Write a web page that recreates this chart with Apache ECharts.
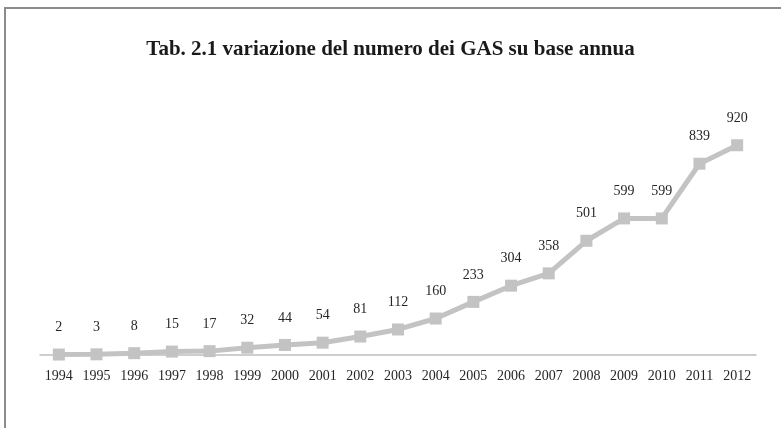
<!DOCTYPE html>
<html>
<head>
<meta charset="utf-8">
<script src="https://cdn.jsdelivr.net/npm/echarts@6/dist/echarts.min.js"></script>
<style>
  html, body { margin: 0; padding: 0; background: #fff; }
  #chart { width: 781px; height: 428px; position: absolute; left: 0; top: 0; }
  .frame {
    position: absolute; left: 4px; top: 7px; right: 0; bottom: 0;
    border-top: 2px solid #8c8c8c; border-left: 2px solid #8c8c8c;
    pointer-events: none;
  }
</style>
</head>
<body>
<div id="chart"></div>
<div class="frame"></div>
<script>
// anni e numero di GAS
const years = ['1994', '1995', '1996', '1997', '1998', '1999', '2000', '2001', '2002', '2003',
  '2004', '2005', '2006', '2007', '2008', '2009', '2010', '2011', '2012'];
const gasCount = [2, 3, 8, 15, 17, 32, 44, 54, 81, 112, 160, 233, 304, 358, 501, 599, 599, 839, 920];

const titleText = 'Tab. 2.1 variazione del numero dei GAS su base annua';
const serif = '"Liberation Serif", "DejaVu Serif", serif';

const chart = echarts.init(document.getElementById('chart'));

chart.setOption({
  animation: false,
  title: {
    text: titleText,
    left: 'center',
    top: 34,
    textStyle: {
      fontFamily: serif,
      fontWeight: 'bold',
      fontSize: 21,
      color: '#1a1a1a'
    }
  },
  grid: {
    left: 40,
    right: 25,
    top: 127,
    bottom: 73
  },
  xAxis: {
    type: 'category',
    data: years,
    boundaryGap: true,
    axisLine: { lineStyle: { color: '#bfbfbf', width: 1.5 } },
    axisTick: { show: false },
    axisLabel: {
      interval: 0,
      margin: 14,
      fontFamily: serif,
      fontSize: 14,
      color: '#262626'
    }
  },
  yAxis: {
    type: 'value',
    min: 0,
    max: 1000,
    show: false,
    splitLine: { show: false }
  },
  series: [
    {
      type: 'line',
      data: gasCount,
      symbol: 'rect',
      symbolSize: 12,
      lineStyle: { color: '#c3c3c3', width: 5 },
      itemStyle: { color: '#c3c3c3' },
      label: {
        show: true,
        position: 'top',
        distance: 14,
        fontFamily: serif,
        fontSize: 14,
        color: '#262626'
      }
    }
  ]
});
</script>
</body>
</html>
